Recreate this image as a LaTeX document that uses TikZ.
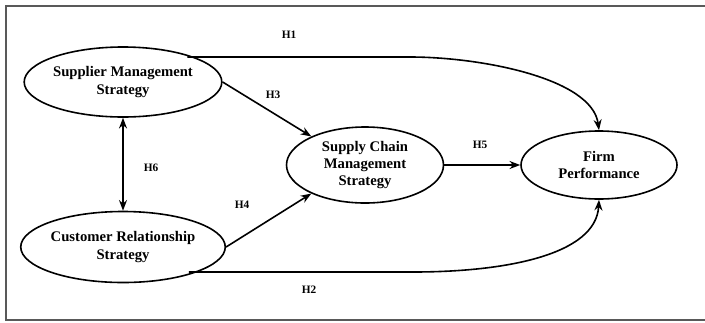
\documentclass[tikz,border=0pt]{standalone}
\usepackage{fontspec}
\setmainfont{Liberation Serif}
\usetikzlibrary{arrows.meta,shapes.geometric}
\begin{document}
\begin{tikzpicture}[x=0.75pt,y=-0.75pt,
  construct/.style={draw,ellipse,line width=1.2pt,inner sep=0pt,align=center,
    font=\fontsize{11}{13}\selectfont\bfseries},
  link/.style={line width=1.2pt,-{Stealth[length=8pt,width=6pt]}},
  dlink/.style={line width=1.2pt,{Stealth[length=8pt,width=6pt]}-{Stealth[length=8pt,width=6pt]}},
  hyp/.style={font=\fontsize{8.5}{10}\selectfont\bfseries},
  frame/.style={draw=black!65,line width=1.4pt}]
\useasboundingbox (0,0) rectangle (705,322);
\draw[frame] (706,6) -- (6,6) -- (6,320) -- (706,320);
\node[construct,minimum width=158*0.75pt,minimum height=70*0.75pt] (sup) at (123,82) {Supplier Management\\Strategy};
\node[construct,minimum width=158*0.75pt,minimum height=71*0.75pt] (cus) at (123,247) {Customer Relationship\\Strategy};
\node[construct,minimum width=157*0.75pt,minimum height=76*0.75pt] (scm) at (365,165) {Supply Chain\\Management\\Strategy};
\node[construct,minimum width=156*0.75pt,minimum height=68*0.75pt] (firm) at (599,165) {Firm\\Performance};
\coordinate (h1a) at (410,57);
\coordinate (h2a) at (413,272);
\draw[link] (sup.23 |- h1a) -- (h1a) .. controls (480,57) and (592,78) .. (firm.north);
\draw[link] (cus.-23 |- h2a) -- (h2a) .. controls (505,272) and (596,255) .. (firm.south);
\draw[link] (sup.east) -- (scm.152);
\draw[link] (cus.east) -- (scm.208);
\draw[link] (scm.east) -- (firm.west);
\draw[dlink] (sup.south) -- (cus.north);
\node[hyp] (l1) at (289,35) {H1};
\node[hyp] (l3) at (273,95) {H3};
\node[hyp] (l6) at (151,168) {H6};
\node[hyp] (l4) at (242,205) {H4};
\node[hyp] (l5) at (480,145) {H5};
\node[hyp] (l2) at (309,290) {H2};
\end{tikzpicture}
\end{document}
